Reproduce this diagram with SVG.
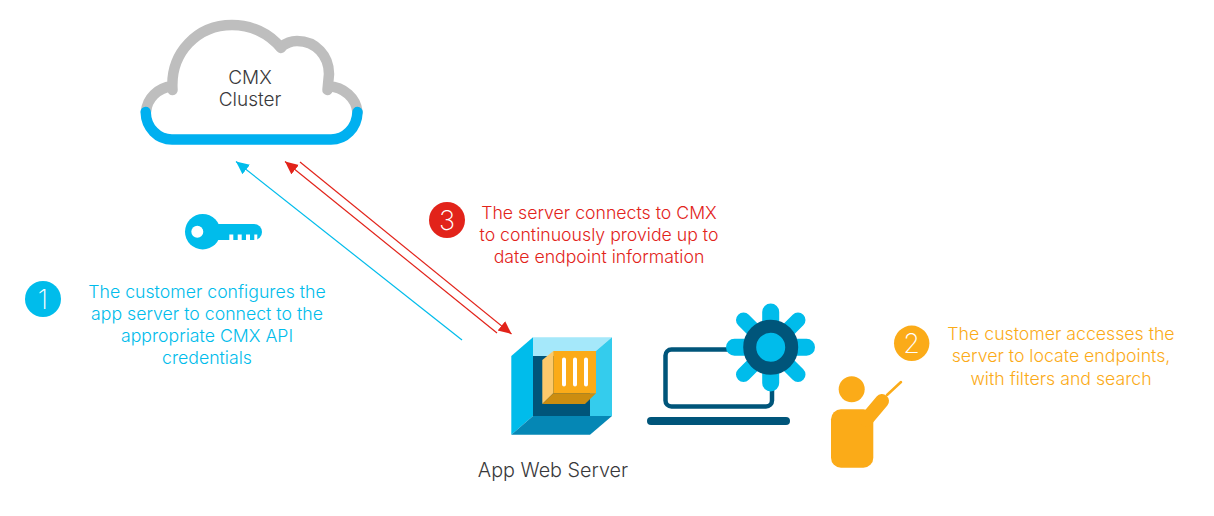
<svg xmlns="http://www.w3.org/2000/svg" width="1214" height="516" viewBox="0 0 1214 516">
<style>
text{font-family:"Inter","Liberation Sans",sans-serif;font-weight:300;font-size:17.700px;text-anchor:middle}
.blue{fill:#00bceb}.red{fill:#e2231a}.org{fill:#fbab18}.dark{fill:#39393b}
.num{fill:#fff;font-size:27px;font-weight:200}
.big{font-size:19px}
.ln{fill:none;stroke-width:1.200}
.cl{fill:none;stroke-width:10.500;stroke-linecap:round;stroke-linejoin:round}
</style>
<defs>
<marker id="hb" markerUnits="userSpaceOnUse" markerWidth="14" markerHeight="14" refX="13" refY="6" orient="auto"><path d="M0 0L13 6L0 12z" fill="#00bceb"/></marker>
<marker id="hr" markerUnits="userSpaceOnUse" markerWidth="14" markerHeight="14" refX="13" refY="6" orient="auto"><path d="M0 0L13 6L0 12z" fill="#e2231a"/></marker>
</defs>
<rect width="1214" height="516" fill="#fff"/>
<g id="connectors">
<path class="ln" stroke="#00bceb" marker-end="url(#hb)" d="M462 340L236 161.500"/>
<path class="ln" stroke="#e2231a" marker-end="url(#hr)" d="M497 333L285 161.500"/>
<path class="ln" stroke="#e2231a" marker-end="url(#hr)" d="M300 162L511.500 334"/>
</g>
<g id="cloud">
<path class="cl" stroke="#bebebe" d="M146 112C147 98 158 88 172 86M172.500 90C170 52 198 25 232 25C251 25 269 33 281 48"/>
<path class="cl" stroke="#bebebe" d="M281 47C286 43 291 41 297 41C316 41 329 56 329 74L327.500 90M328 86C344 87 356 98 357.500 112"/>
<path class="cl" stroke="#00b0f0" d="M145.700 112C146 128 158 139.500 172 139.500H331C345 139.500 357 128 357.500 112"/>
<text class="dark big" x="250" y="84">CMX</text>
<text class="dark big" x="250" y="106">Cluster</text>
</g>
<g id="key">
<circle class="blue" cx="202.700" cy="231.700" r="17.700"/>
<path class="blue" d="M212 224H254A8 8 0 0 1 254 240H212z"/>
<g fill="#fff"><circle cx="197.300" cy="231.700" r="6"/><rect x="229.300" y="234.500" width="4" height="6"/><rect x="237.700" y="234.500" width="4" height="6"/><rect x="246" y="234.500" width="4" height="6"/><rect x="254.300" y="234.500" width="3" height="6"/></g>
</g>
<g id="step1">
<circle class="blue" cx="43" cy="299" r="18"/>
<text class="num" x="43" y="309">1</text>
<text class="blue" x="207" y="298">The customer configures the</text>
<text class="blue" x="207" y="320">app server to connect to the</text>
<text class="blue" x="207" y="342">appropriate CMX API</text>
<text class="blue" x="207" y="364">credentials</text>
</g>
<g id="step3">
<circle class="red" cx="447" cy="220" r="18"/>
<text class="num" x="447" y="230">3</text>
<text class="red" x="599" y="219">The server connects to CMX</text>
<text class="red" x="599" y="241">to continuously provide up to</text>
<text class="red" x="599" y="263">date endpoint information</text>
</g>
<g id="server">
<path fill="#00bceb" d="M511.300 356L533 337.300V416L511.300 434.700z"/>
<path fill="#a5e8fa" d="M533 337.300H612L590 356H533z"/>
<path fill="#34cced" d="M612 337.300V416H590V356z"/>
<path fill="#0587b5" d="M511.300 434.700L533 416H612L590 434.700z"/>
<rect x="533" y="356" width="57" height="60" fill="#00557a"/>
<path fill="#fcc96b" d="M542.300 360L553.300 351V393.300L542.300 404z"/>
<rect x="553.300" y="351" width="42.700" height="42.300" fill="#fbab18"/>
<path fill="#cc8d10" d="M542.300 404L553.300 393.300H596L585 404z"/>
<g stroke="#fff" stroke-width="4" stroke-linecap="round"><path d="M564 359.500V384.500M575 359.500V384.500M586 359.500V384.500"/></g>
<text class="dark" x="553" y="477" style="font-size:19.800px">App Web Server</text>
</g>
<g id="laptop">
<rect x="665.500" y="349.500" width="106.500" height="57" rx="6" fill="#fff" stroke="#00557a" stroke-width="4.500"/>
<rect x="647" y="417" width="143" height="8" rx="4" fill="#00557a"/>
<g stroke="#00bceb" stroke-linecap="round">
<path stroke-width="17" d="M770.700 347.300V312M770.700 347.300V383M770.700 347.300H734.500M770.700 347.300H806.500"/>
<path stroke-width="15" d="M770.700 347.300L743.500 320M770.700 347.300L798 320M770.700 347.300L743.500 374.500M770.700 347.300L798 374.500"/>
</g>
<circle cx="770.700" cy="347.300" r="21" fill="#00bceb" stroke="#00557a" stroke-width="13"/>
</g>
<g id="person">
<circle class="org" cx="851.700" cy="389.300" r="13"/>
<rect class="org" x="831" y="409.300" width="42.300" height="58.400" rx="10"/>
<path stroke="#fbab18" stroke-width="14" stroke-linecap="round" fill="none" d="M866 420L882 401"/>
<path stroke="#fbab18" stroke-width="2.500" stroke-linecap="round" fill="none" d="M887 395L901 382"/>
</g>
<g id="step2">
<circle class="org" cx="911.700" cy="343.300" r="17.700"/>
<text class="num" x="911.700" y="353">2</text>
<text class="org" x="1061" y="340">The customer accesses the</text>
<text class="org" x="1061" y="362">server to locate endpoints,</text>
<text class="org" x="1061" y="385">with filters and search</text>
</g>
</svg>
